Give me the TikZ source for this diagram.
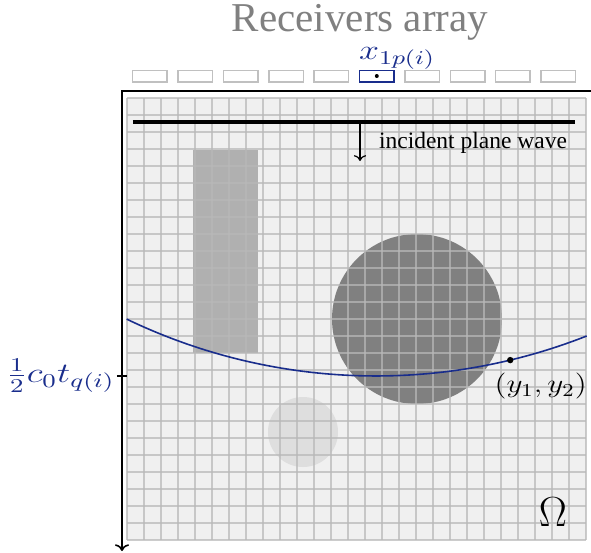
\documentclass[tikz,border=0pt]{standalone}
\usepackage{fix-cm}
\usepackage[no-math]{fontspec}
\setmainfont{Liberation Serif}
\usepackage{graphicx}
\usepackage{xcolor}
\usepackage{tikz}
\usetikzlibrary{arrows.meta,positioning}

\definecolor{navyblue}{RGB}{25,45,140}
\definecolor{gridbg}{RGB}{240,240,240}
\definecolor{gridln}{RGB}{184,184,184}
\definecolor{rectgray}{RGB}{176,176,176}
\definecolor{diskgray}{RGB}{128,128,128}
\definecolor{blobgray}{RGB}{222,222,222}
\definecolor{recgray}{RGB}{192,192,192}

\newcommand{\wide}[2]{\scalebox{#1}[1]{#2}}

\begin{document}
\begin{tikzpicture}[
  x=0.5pt, y=-0.5pt,
  title/.style    ={text=gray, font=\fontsize{20.5}{24}\selectfont, inner sep=0pt},
  receiver/.style ={draw=recgray, line width=0.75pt, fill=white,
                    minimum width=17.25pt, minimum height=5.75pt, inner sep=0pt},
  gridline/.style ={draw=gridln, line width=0.55pt, opacity=0.72},
  axis/.style     ={line width=0.8pt, black},
  wave/.style     ={line width=1.8pt, black},
  bluelbl/.style  ={text=navyblue, inner sep=1pt},
]
  \useasboundingbox (0,0) rectangle (591,553);

  % domain
  \fill[gridbg] (127,98) rectangle (586,540);
  \fill[rectgray] (193,150) rectangle (258,353);
  \fill[diskgray] (417,319) circle (42.5pt);
  \fill[blobgray] (303,432) circle (17.5pt);
  \foreach \i in {0,...,27}
    \draw[gridline] ({127+17*\i},98) -- ({127+17*\i},540);
  \foreach \j in {0,...,26}
    \draw[gridline] (127,{98+17*\j}) -- (586,{98+17*\j});

  % incident wave
  \coordinate (wl) at (133,122);
  \coordinate (wr) at (575,122);
  \coordinate (wa) at (360,122);
  \draw[wave] (wl) -- (wr);
  \draw[->, line width=0.6pt] (wa) -- ++(0,39);
  \node[anchor=base west, font=\fontsize{11.75}{14}\selectfont] (inc) at (372,148) {incident plane wave};

  % travel-time curve
  \coordinate (ctr) at (376,-199);
  \draw[navyblue, line width=0.8pt] (ctr) ++(115.7:575) arc[start angle=115.7, end angle=68.5, radius=575];
  \path (ctr) ++(76.5:575) coordinate (pt);
  \fill (pt) circle (1.6pt);
  \node[anchor=north west, inner sep=0pt, font=\fontsize{13}{16}\selectfont] (ylbl) at ([xshift=-8pt,yshift=-6.5pt]pt) {\wide{1.2}{$(y_1,y_2)$}};
  \node[font=\fontsize{21}{25}\selectfont] (omega) at (553,512) {$\Omega$};

  % axes
  \coordinate (orig) at (122,91);
  \coordinate (xend) at (591,91);
  \coordinate (yend) at (122,551);
  \coordinate (tick) at (122,376);
  \draw[axis, ->] (xend) -- (orig) -- (yend);
  \draw[axis] ([xshift=-2.5pt]tick) -- ([xshift=2.5pt]tick);
  \node[bluelbl, anchor=east, font=\fontsize{14}{17}\selectfont] (tlbl) at ([xshift=-2.5pt]tick)
    {\wide{1.33}{$\frac{1}{2}c_0t_{q(i)}$}};

  % receivers
  \node[title, anchor=base] (ttl) at (360,31) {Receivers array};
  \foreach \k in {1,...,5,7,8,9,10}
    \node[receiver] (rec\k) at ({150+45.36*(\k-1)},76) {};
  \node[receiver, draw=navyblue] (rec6) at (376.8,76) {};
  \fill (rec6.center) circle (1pt);
  \node[bluelbl, anchor=south west, inner sep=0pt, font=\fontsize{14}{17}\selectfont] (xlbl) at (rec6.north west)
    {\wide{1.28}{$x_{1p(i)}$}};
\end{tikzpicture}
\end{document}
